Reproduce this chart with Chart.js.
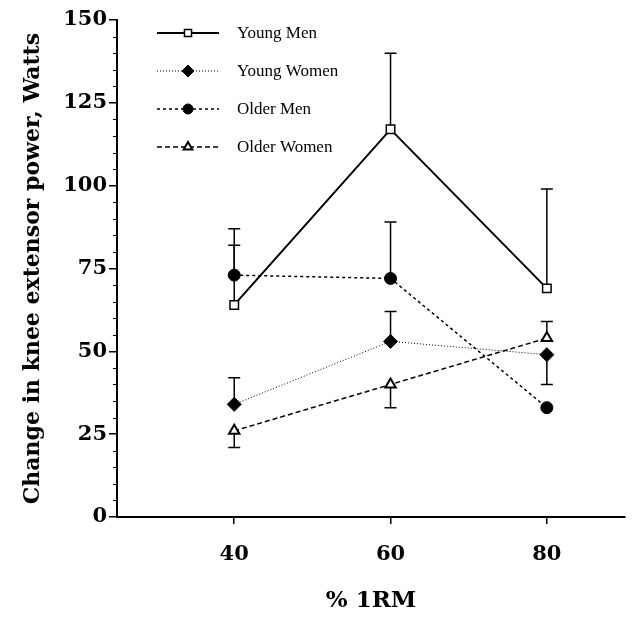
<!DOCTYPE html>
<html>
<head>
<meta charset="utf-8">
<script src="https://cdn.jsdelivr.net/npm/chart.js@4/dist/chart.umd.min.js"></script>
<style>
    body { margin: 0; background: #fff; }
    #wrap { width: 633px; height: 629px; }
</style>
</head>
<body>
<div id="wrap"><canvas id="chart" width="633" height="629"></canvas></div>
<script>
// data
const loads = [40, 60, 80];
const xTicks = [40, 60, 80];
const yTicks = [0, 25, 50, 75, 100, 125, 150];

const youngMen = [64, 117, 69];
const youngWomen = [34, 53, 49];
const olderMen = [73, 72, 33];
const olderWomen = [26, 40, 54];

// end value of each error bar (null = not shown)
const youngMenErr = [82, 140, 99];
const youngWomenErr = [42, 62, 40];
const olderMenErr = [87, 89, null];
const olderWomenErr = [21, 33, 59];

const seriesNames = ['Young Men', 'Young Women', 'Older Men', 'Older Women'];

const serif = "'DejaVu Serif', 'Liberation Serif', serif";

function pts(vals) {
    return loads.map((x, i) => ({ x: x, y: vals[i] }));
}

const datasets = [
    { label: seriesNames[0], data: pts(youngMen), err: youngMenErr, borderColor: '#000', borderWidth: 2, borderDash: [],
      pointStyle: 'rect', pointRadius: 6, pointBackgroundColor: '#fff', pointBorderColor: '#000', pointBorderWidth: 1.5 },
    { label: seriesNames[1], data: pts(youngWomen), err: youngWomenErr, borderColor: '#000', borderWidth: 1, borderDash: [1, 2],
      pointStyle: 'rectRot', pointRadius: 7, pointBackgroundColor: '#000', pointBorderColor: '#000', pointBorderWidth: 1 },
    { label: seriesNames[2], data: pts(olderMen), err: olderMenErr, borderColor: '#000', borderWidth: 1.5, borderDash: [3, 3],
      pointStyle: 'circle', pointRadius: 6, pointBackgroundColor: '#000', pointBorderColor: '#000', pointBorderWidth: 1 },
    { label: seriesNames[3], data: pts(olderWomen), err: olderWomenErr, borderColor: '#000', borderWidth: 1.5, borderDash: [5, 3],
      pointStyle: 'triangle', pointRadius: 6, pointBackgroundColor: '#fff', pointBorderColor: '#000', pointBorderWidth: 2 }
];

// error bars, drawn under the markers
const errorBars = {
    id: 'errorBars',
    beforeDatasetsDraw(chart) {
        const ctx = chart.ctx;
        const xs = chart.scales.x, ys = chart.scales.y;
        ctx.save();
        ctx.strokeStyle = '#000';
        ctx.lineWidth = 1.5;
        chart.data.datasets.forEach(ds => {
            ds.data.forEach((p, i) => {
                const e = ds.err[i];
                if (e == null) return;
                const x = xs.getPixelForValue(p.x);
                const y0 = ys.getPixelForValue(p.y);
                const y1 = ys.getPixelForValue(e);
                ctx.beginPath();
                ctx.moveTo(x, y0);
                ctx.lineTo(x, y1);
                ctx.moveTo(x - 6, y1);
                ctx.lineTo(x + 6, y1);
                ctx.stroke();
            });
        });
        ctx.restore();
    }
};

// minor ticks every 5 W on the y axis
const minorTicks = {
    id: 'minorTicks',
    afterDraw(chart) {
        const ctx = chart.ctx;
        const ys = chart.scales.y;
        const left = chart.chartArea.left;
        ctx.save();
        ctx.strokeStyle = '#000';
        ctx.lineWidth = 1;
        for (let v = 5; v < 150; v += 5) {
            if (v % 25 === 0) continue;
            const y = Math.round(ys.getPixelForValue(v)) + 0.5;
            ctx.beginPath();
            ctx.moveTo(left - 4, y);
            ctx.lineTo(left, y);
            ctx.stroke();
        }
        ctx.restore();
    }
};

// legend in the upper left of the plot
const innerLegend = {
    id: 'innerLegend',
    afterDraw(chart) {
        const ctx = chart.ctx;
        const drawPoint = Chart.helpers && Chart.helpers.drawPoint;
        ctx.save();
        chart.data.datasets.forEach((ds, i) => {
            const y = 33 + i * 38;
            ctx.strokeStyle = '#000';
            ctx.lineWidth = ds.borderWidth;
            ctx.setLineDash(ds.borderDash);
            ctx.beginPath();
            ctx.moveTo(157, y);
            ctx.lineTo(219, y);
            ctx.stroke();
            ctx.setLineDash([]);
            if (drawPoint) {
                ctx.fillStyle = ds.pointBackgroundColor;
                ctx.strokeStyle = ds.pointBorderColor;
                ctx.lineWidth = ds.pointBorderWidth;
                drawPoint(ctx, { pointStyle: ds.pointStyle, radius: ds.pointRadius - 1, borderWidth: ds.pointBorderWidth }, 188, y);
            }
            ctx.fillStyle = '#000';
            ctx.font = "17px 'Liberation Serif', serif";
            ctx.textBaseline = 'middle';
            ctx.fillText(ds.label, 237, y + 1);
        });
        ctx.restore();
    }
};

new Chart(document.getElementById('chart'), {
    type: 'line',
    data: { datasets: datasets },
    plugins: [errorBars, minorTicks, innerLegend],
    options: {
        responsive: false,
        animation: false,
        layout: { padding: { top: 20, right: -5, left: 0, bottom: 0 } },
        plugins: {
            legend: { display: false },
            tooltip: { enabled: false }
        },
        scales: {
            x: {
                type: 'linear',
                min: 25,
                max: 90,
                afterBuildTicks: s => { s.ticks = xTicks.map(v => ({ value: v })); },
                afterFit: s => { s.height = 112; },
                grid: { drawOnChartArea: false, drawTicks: true, tickLength: 7, color: '#000', lineWidth: 1.5 },
                border: { display: true, color: '#000', width: 2 },
                ticks: { color: '#000', padding: 18, font: { family: serif, size: 21, weight: 'bold' } },
                title: { display: true, text: '% 1RM', color: '#000', padding: { top: 0, bottom: 14 },
                         font: { family: serif, size: 23, weight: 'bold' } }
            },
            y: {
                min: 0,
                max: 150,
                afterBuildTicks: s => { s.ticks = yTicks.map(v => ({ value: v })); },
                afterFit: s => { s.width = 117; },
                grid: { drawOnChartArea: false, drawTicks: true, tickLength: 8, color: '#000', lineWidth: 1.5 },
                border: { display: true, color: '#000', width: 2 },
                ticks: { color: '#000', padding: 2, font: { family: serif, size: 21, weight: 'bold' } },
                title: { display: true, text: 'Change in knee extensor power, Watts', color: '#000',
                         padding: { top: 20, bottom: 0 }, font: { family: serif, size: 22, weight: 'bold' } }
            }
        }
    }
});
</script>
</body>
</html>
